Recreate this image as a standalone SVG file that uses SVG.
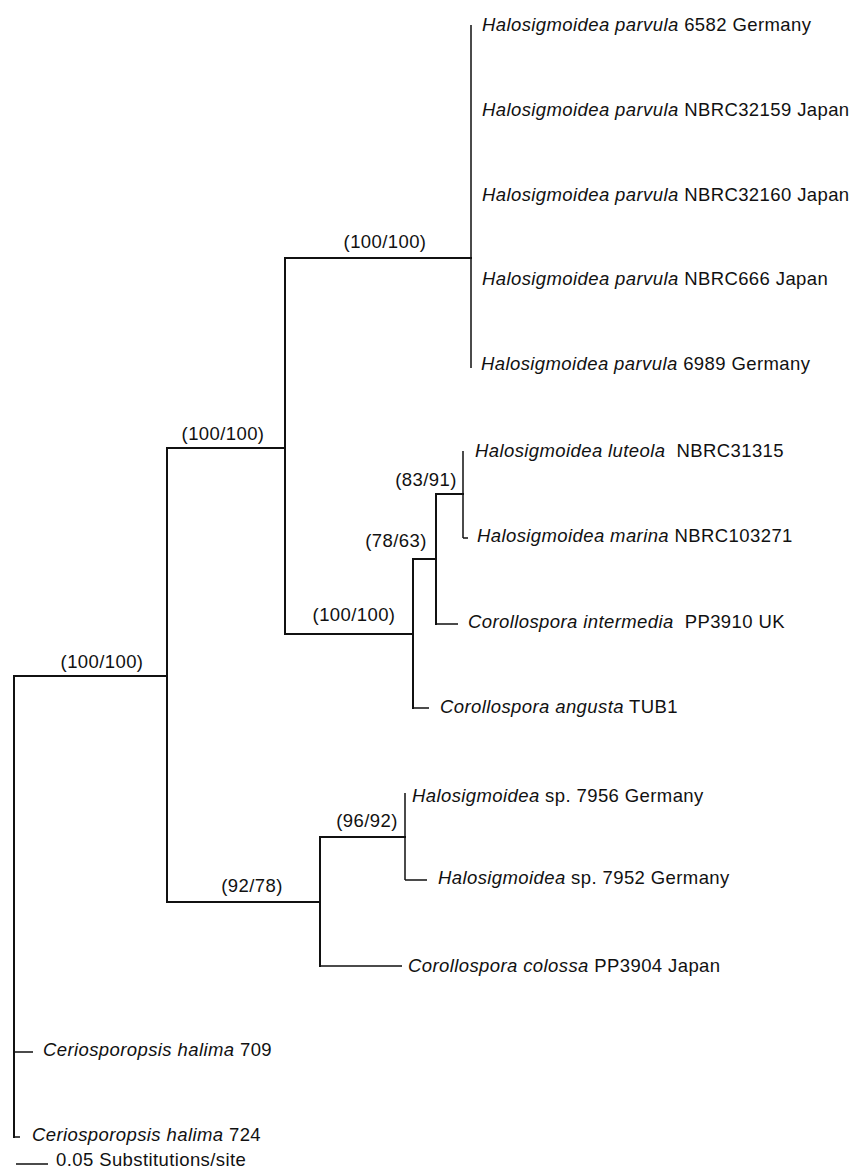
<svg xmlns="http://www.w3.org/2000/svg" width="857" height="1171" viewBox="0 0 857 1171">
<style>
.t{font-family:"Liberation Sans",Arial,sans-serif;font-size:18.5px;letter-spacing:0.4px;fill:#111}
.i{font-style:italic}
.b{font-family:"Liberation Sans",Arial,sans-serif;font-size:18.5px;letter-spacing:0.4px;fill:#111;text-anchor:middle}
.e{fill:none;stroke:#111;stroke-width:2;stroke-linecap:square}
.f{fill:none;stroke:#111;stroke-width:1.5}
</style>
<rect width="857" height="1171" fill="#fff"/>
<g id="connectors">
<path class="e" d="M14,676 V1137 M14,676 H167 M167,448 V902 M167,448 H285 M285,258 V634 M285,258 H471 M285,634 H413 M413,559 V708 M413,559 H436 M436,494 V624 M436,494 H463 M167,902 H320 M320,837 V966 M320,837 H405"/>
<path class="f" d="M471,25 V368 M463,451 V538 M463,538 H468 M436,624 H458 M413,708 H429 M405,793 V880 M405,880 H427 M320,966 H402 M14,1052 H33 M14,1137 H20 M16,1164 H48"/>
</g>
<g id="support">
<text class="b" x="385" y="248">(100/100)</text>
<text class="b" x="223" y="440">(100/100)</text>
<text class="b" x="102" y="668">(100/100)</text>
<text class="b" x="354" y="621">(100/100)</text>
<text class="b" x="396" y="547">(78/63)</text>
<text class="b" x="426" y="486">(83/91)</text>
<text class="b" x="252" y="892">(92/78)</text>
<text class="b" x="367" y="827">(96/92)</text>
</g>
<g id="taxa">
<g id="n1"><text class="t" x="482" y="31"><tspan class="i">Halosigmoidea parvula</tspan> 6582 Germany</text></g>
<g id="n2"><text class="t" x="482" y="116"><tspan class="i">Halosigmoidea parvula</tspan> NBRC32159 Japan</text></g>
<g id="n3"><text class="t" x="482" y="201"><tspan class="i">Halosigmoidea parvula</tspan> NBRC32160 Japan</text></g>
<g id="n4"><text class="t" x="482" y="285"><tspan class="i">Halosigmoidea parvula</tspan> NBRC666 Japan</text></g>
<g id="n5"><text class="t" x="481" y="370"><tspan class="i">Halosigmoidea parvula</tspan> 6989 Germany</text></g>
<g id="n6"><text class="t" x="475" y="457" xml:space="preserve"><tspan class="i">Halosigmoidea luteola</tspan>  NBRC31315</text></g>
<g id="n7"><text class="t" x="477" y="542"><tspan class="i">Halosigmoidea marina</tspan> NBRC103271</text></g>
<g id="n8"><text class="t" x="468" y="628" xml:space="preserve"><tspan class="i">Corollospora intermedia</tspan>  PP3910 UK</text></g>
<g id="n9"><text class="t" x="440" y="713"><tspan class="i">Corollospora angusta</tspan> TUB1</text></g>
<g id="n10"><text class="t" x="412" y="802"><tspan class="i">Halosigmoidea</tspan> sp. 7956 Germany</text></g>
<g id="n11"><text class="t" x="438" y="884"><tspan class="i">Halosigmoidea</tspan> sp. 7952 Germany</text></g>
<g id="n12"><text class="t" x="408" y="972"><tspan class="i">Corollospora colossa</tspan> PP3904 Japan</text></g>
<g id="n13"><text class="t" x="43" y="1056"><tspan class="i">Ceriosporopsis halima</tspan> 709</text></g>
<g id="n14"><text class="t" x="32" y="1141"><tspan class="i">Ceriosporopsis halima</tspan> 724</text></g>
<g id="scale"><text class="t" x="56" y="1166">0.05 Substitutions/site</text></g>
</g>
</svg>
